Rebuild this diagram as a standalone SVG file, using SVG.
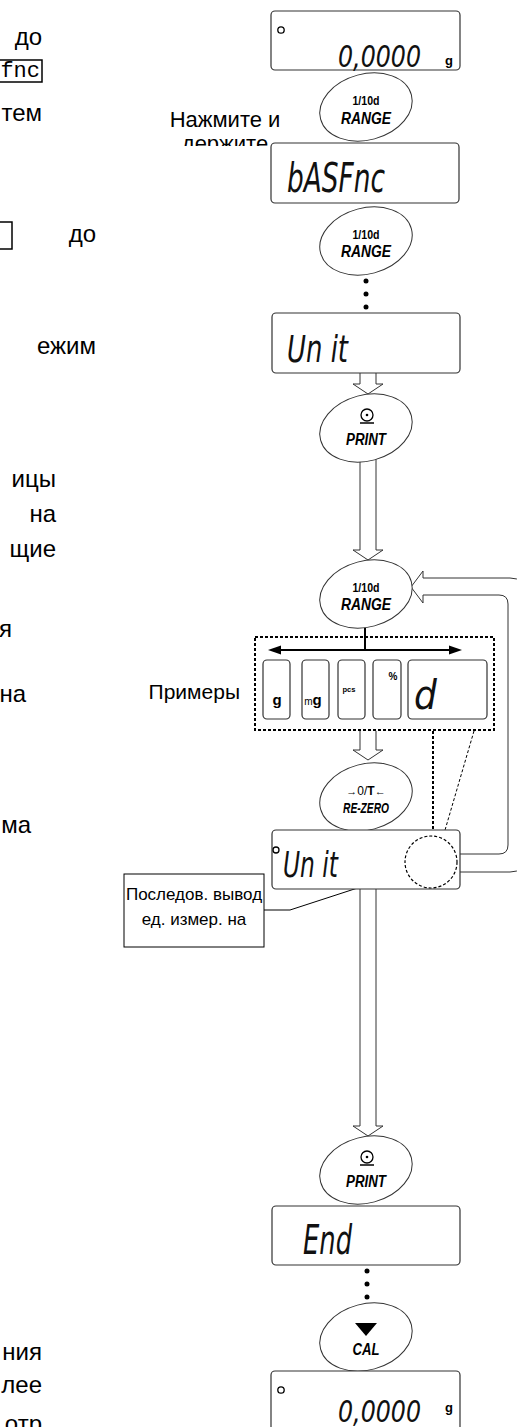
<svg xmlns="http://www.w3.org/2000/svg" width="517" height="1427" viewBox="0 0 517 1427">
<style>
.disp{fill:#fff;stroke:#333;stroke-width:1.2}
.btn{fill:#fff;stroke:#333;stroke-width:1}
.seg{font-family:"DejaVu Sans Condensed","DejaVu Sans",sans-serif;font-style:oblique;fill:#111}
.b1{font-family:"Liberation Sans",Arial,sans-serif;font-weight:bold;text-anchor:middle;fill:#000}
.b2{font-family:"Liberation Sans",Arial,sans-serif;font-weight:bold;font-style:italic;text-anchor:middle;fill:#000}
.lt{font-family:"Liberation Sans",Arial,sans-serif;font-size:24px;fill:#000;text-anchor:end}
.lbl{font-family:"Liberation Sans",Arial,sans-serif;fill:#000}
.hol{fill:#fff;stroke:#333;stroke-width:1}
.dot{fill:#000}
.dotted{fill:none;stroke:#000;stroke-width:2;stroke-dasharray:3 2}
.thin{fill:none;stroke:#000;stroke-width:1;stroke-dasharray:3 2}
</style>
<defs>
<clipPath id="clipHold"><rect x="100" y="100" width="200" height="46"/></clipPath>
<clipPath id="clipCall"><rect x="124" y="874" width="140" height="73"/></clipPath>
</defs>

<g id="left-text">
<text class="lt" x="42" y="45">до</text>
<rect x="-2" y="60" width="44" height="22" fill="none" stroke="#000" stroke-width="1.5"/>
<text x="40" y="77" font-family="'Liberation Mono',monospace" font-size="22" text-anchor="end">fnc</text>
<text class="lt" x="42" y="121">тем</text>
<rect x="-2" y="222" width="14" height="27" fill="none" stroke="#000" stroke-width="1.5"/>
<text class="lt" x="96" y="242">до</text>
<text class="lt" x="96" y="354">ежим</text>
<text class="lt" x="56" y="487">ицы</text>
<text class="lt" x="56" y="522">на</text>
<text class="lt" x="56" y="557">щие</text>
<text class="lt" x="12" y="637">я</text>
<text class="lt" x="26" y="702">на</text>
<text class="lt" x="31" y="833">ма</text>
<text class="lt" x="42" y="1360">ния</text>
<text class="lt" x="42" y="1393">лее</text>
<text class="lt" x="42" y="1432">отр</text>
</g>

<g id="connectors">
<path class="hol" d="M360,368 V384 H353 L368,394 L383,384 H376 V368"/>
<path class="hol" d="M360,455 V550 H353 L368,560 L383,550 H376 V455"/>
<path class="hol" d="M360,731 V750 H353 L368,760 L383,750 H376 V731"/>
<path class="hol" d="M360,885 V1126 H353 L368,1136 L383,1126 H376 V885"/>
<path class="hol" d="M455,872 H510 Q525,872 525,857 V593 Q525,578 510,578 H423 V571 L411,587 L423,603 V595 H499 Q508,595 508,604 V845 Q508,854 499,854 H455 Z"/>
<circle class="dot" cx="366" cy="281" r="2.5"/>
<circle class="dot" cx="366" cy="294" r="2.5"/>
<circle class="dot" cx="366" cy="307" r="2.5"/>
<circle class="dot" cx="367" cy="1271" r="2.5"/>
<circle class="dot" cx="367" cy="1284" r="2.5"/>
<circle class="dot" cx="367" cy="1297" r="2.5"/>
<line x1="365" y1="625" x2="365" y2="650" stroke="#000" stroke-width="2"/>
<line x1="278" y1="650" x2="452" y2="650" stroke="#000" stroke-width="2"/>
<polygon points="268,650 281,645.5 281,654.5" fill="#000"/>
<polygon points="462,650 449,645.5 449,654.5" fill="#000"/>
<line class="dotted" x1="433" y1="731" x2="433" y2="836"/>
<line class="thin" x1="474" y1="731" x2="443" y2="837"/>
<path d="M264,910 H290 L422,867" fill="none" stroke="#000" stroke-width="1"/>
</g>

<g id="display-zero-top">
<rect class="disp" x="271" y="11" width="189" height="59" rx="4"/>
<circle cx="281" cy="30" r="3.2" fill="none" stroke="#000" stroke-width="1.3"/>
<text class="seg" x="338" y="67" font-size="31" textLength="83" lengthAdjust="spacingAndGlyphs">0,0000</text>
<text class="b1" x="449" y="65" font-size="13">g</text>
</g>

<g id="btn-range-1">
<ellipse class="btn" cx="366" cy="107" rx="47" ry="33" transform="rotate(-15 366 107)"/>
<text class="b1" x="366" y="105" font-size="13" textLength="27" lengthAdjust="spacingAndGlyphs">1/10d</text>
<text class="b2" x="366" y="124" font-size="16" textLength="50" lengthAdjust="spacingAndGlyphs">RANGE</text>
</g>

<g id="label-hold">
<text class="lbl" x="225" y="127" font-size="22" text-anchor="middle">Нажмите и</text>
<text class="lbl" x="225" y="151" font-size="22" text-anchor="middle" clip-path="url(#clipHold)">держите</text>
</g>

<g id="display-basfnc">
<rect class="disp" x="271" y="143" width="188" height="60" rx="4"/>
<text class="seg" x="287" y="192" font-size="40" textLength="98" lengthAdjust="spacingAndGlyphs">bASFnc</text>
</g>

<g id="btn-range-2">
<ellipse class="btn" cx="366" cy="241" rx="47" ry="33" transform="rotate(-15 366 241)"/>
<text class="b1" x="366" y="239" font-size="13" textLength="27" lengthAdjust="spacingAndGlyphs">1/10d</text>
<text class="b2" x="366" y="257" font-size="16" textLength="50" lengthAdjust="spacingAndGlyphs">RANGE</text>
</g>

<g id="display-unit">
<rect class="disp" x="272" y="313" width="188" height="60" rx="4"/>
<text class="seg" x="287" y="362" font-size="38" textLength="61" lengthAdjust="spacingAndGlyphs">Un it</text>
</g>

<g id="btn-print-1">
<ellipse class="btn" cx="366" cy="428" rx="47" ry="33" transform="rotate(-15 366 428)"/>
<circle cx="367" cy="415" r="6" fill="none" stroke="#000" stroke-width="1.3"/>
<circle cx="367" cy="415" r="1.3" fill="#000"/>
<line x1="360" y1="423" x2="374" y2="423" stroke="#000" stroke-width="1.5"/>
<text class="b2" x="366" y="445" font-size="16" textLength="40" lengthAdjust="spacingAndGlyphs">PRINT</text>
</g>

<g id="btn-range-3">
<ellipse class="btn" cx="366" cy="594" rx="47" ry="33" transform="rotate(-15 366 594)"/>
<text class="b1" x="366" y="592" font-size="13" textLength="27" lengthAdjust="spacingAndGlyphs">1/10d</text>
<text class="b2" x="366" y="610" font-size="16" textLength="50" lengthAdjust="spacingAndGlyphs">RANGE</text>
</g>

<g id="examples">
<rect class="dotted" x="255" y="637" width="239" height="93"/>
<rect class="disp" x="263" y="660" width="27" height="59" rx="4"/>
<rect class="disp" x="302" y="660" width="27" height="59" rx="4"/>
<rect class="disp" x="338" y="660" width="27" height="59" rx="4"/>
<rect class="disp" x="373" y="660" width="28" height="59" rx="4"/>
<rect class="disp" x="408" y="660" width="79" height="59" rx="4"/>
<text class="b1" x="277" y="705" font-size="15">g</text>
<text class="b1" x="313" y="705"><tspan font-size="10" font-weight="normal">m</tspan><tspan font-size="15">g</tspan></text>
<text class="b1" x="349" y="692" font-size="8" textLength="13" lengthAdjust="spacingAndGlyphs">pcs</text>
<text class="b1" x="393" y="680" font-size="10">%</text>
<text class="seg" x="414" y="709" font-size="40">d</text>
<text class="lbl" x="240" y="699" font-size="21" text-anchor="end">Примеры</text>
</g>

<g id="btn-rezero">
<ellipse class="btn" cx="366" cy="797" rx="47" ry="33" transform="rotate(-15 366 797)"/>
<text class="b1" x="366" y="795" font-size="12"><tspan font-size="11">→</tspan><tspan font-weight="normal">0/</tspan><tspan>T</tspan><tspan font-size="11">←</tspan></text>
<text class="b2" x="366" y="813" font-size="15" textLength="46" lengthAdjust="spacingAndGlyphs">RE-ZERO</text>
</g>

<g id="display-unit-2">
<rect class="disp" x="272" y="830" width="188" height="59" rx="4"/>
<circle cx="276" cy="850" r="3" fill="none" stroke="#000" stroke-width="1.3"/>
<text class="seg" x="283" y="877" font-size="36" textLength="55" lengthAdjust="spacingAndGlyphs">Un it</text>
<circle cx="431" cy="862" r="26" fill="none" stroke="#000" stroke-width="1.2" stroke-dasharray="3 2"/>
</g>

<g id="callout">
<rect x="124" y="874" width="140" height="73" fill="#fff" stroke="#000" stroke-width="1"/>
<g clip-path="url(#clipCall)">
<text class="lbl" x="194" y="900" font-size="17" text-anchor="middle">Последов. вывод</text>
<text class="lbl" x="194" y="925" font-size="17" text-anchor="middle">ед. измер. на</text>
</g>
</g>

<g id="btn-print-2">
<ellipse class="btn" cx="366" cy="1170" rx="47" ry="33" transform="rotate(-15 366 1170)"/>
<circle cx="367" cy="1157" r="6" fill="none" stroke="#000" stroke-width="1.3"/>
<circle cx="367" cy="1157" r="1.3" fill="#000"/>
<line x1="360" y1="1165" x2="374" y2="1165" stroke="#000" stroke-width="1.5"/>
<text class="b2" x="366" y="1187" font-size="16" textLength="40" lengthAdjust="spacingAndGlyphs">PRINT</text>
</g>

<g id="display-end">
<rect class="disp" x="272" y="1206" width="188" height="59" rx="4"/>
<text class="seg" x="303" y="1254" font-size="40" textLength="49" lengthAdjust="spacingAndGlyphs">End</text>
</g>

<g id="btn-cal">
<ellipse class="btn" cx="366" cy="1337" rx="47" ry="33" transform="rotate(-15 366 1337)"/>
<polygon points="355,1323 377,1323 366,1336" fill="#000"/>
<text class="b2" x="366" y="1355" font-size="17" textLength="27" lengthAdjust="spacingAndGlyphs">CAL</text>
</g>

<g id="display-zero-bottom">
<rect class="disp" x="271" y="1371" width="189" height="62" rx="4"/>
<circle cx="281" cy="1390" r="3.2" fill="none" stroke="#000" stroke-width="1.3"/>
<text class="seg" x="338" y="1422" font-size="31" textLength="83" lengthAdjust="spacingAndGlyphs">0,0000</text>
<text class="b1" x="449" y="1412" font-size="13">g</text>
</g>
</svg>
